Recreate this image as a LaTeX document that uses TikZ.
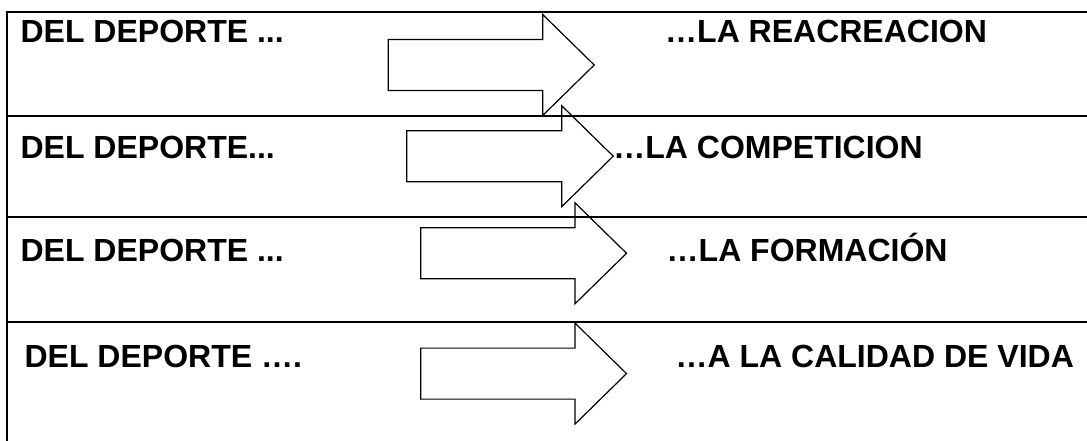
\documentclass[tikz,border=0pt]{standalone}
\usepackage{fontspec}
\setmainfont{Liberation Sans}
\begin{document}
\begin{tikzpicture}[x=1pt,y=-1pt,
  frameline/.style={line width=2pt},
  bigarrow/.style={line width=1.2pt, line join=miter},
  lbl/.style={anchor=base west, inner sep=0pt, font=\fontsize{32}{38}\selectfont\bfseries}]
\useasboundingbox (0,0) rectangle (1087,441);
% frame and row separators
\draw[frameline] (1087,11.7) -- (7,11.7) -- (7,441);
\foreach \y in {115.7,217.3,321.7} \draw[frameline] (7,\y) -- (1087,\y);
% block arrows (x body left / x head base / y centre)
\foreach \a/\b/\c in {388.3/542.7/65, 406.7/561.7/156.2, 420.7/575/253.3, 420.7/575/373.6}
  \draw[bigarrow] (\a,{\c-25.5}) -- (\b,{\c-25.5}) -- (\b,{\c-50.5}) -- ({\b+51.5},\c)
     -- (\b,{\c+50.5}) -- (\b,{\c+25.5}) -- (\a,{\c+25.5}) -- cycle;
% labels
\node[lbl] (l1) at (20.4,42.5)  {DEL DEPORTE ...};
\node[lbl] (l2) at (20.4,158.3) {DEL DEPORTE...};
\node[lbl] (l3) at (20.4,261.7) {DEL DEPORTE ...};
\node[lbl] (l4) at (24.4,367.3) {DEL DEPORTE ….};
\node[lbl] (r1) at (665,42.5)   {…LA REACREACION};
\node[lbl] (r2) at (613.2,158.3) {…LA COMPETICION};
\node[lbl] (r3) at (666.5,261.7) {…LA FORMACIÓN};
\node[lbl] (r4) at (675.5,367.3) {…A LA CALIDAD DE VIDA};
\end{tikzpicture}
\end{document}
